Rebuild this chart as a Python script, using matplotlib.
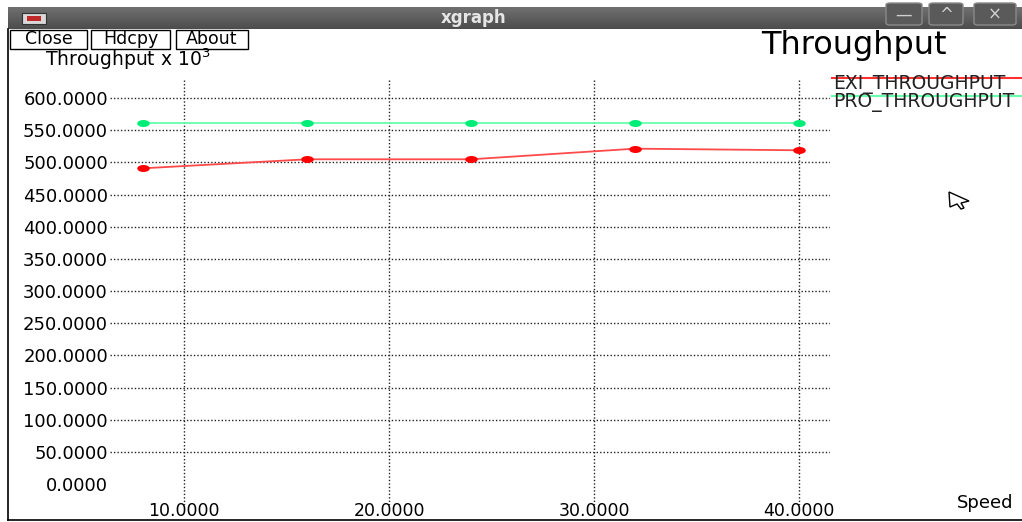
import matplotlib
matplotlib.use('Agg')
import matplotlib.pyplot as plt
from matplotlib.patches import Rectangle, FancyBboxPatch, Polygon
from matplotlib.lines import Line2D
from matplotlib.path import Path
import numpy as np

speed = [8, 16, 24, 32, 40]
exi_throughput = [490.8, 504.8, 504.8, 521.3, 518.8]
pro_throughput = [560.6, 560.6, 560.6, 560.6, 560.6]
x_ticks = [10, 20, 30, 40]
y_ticks = list(range(0, 601, 50))
series_names = ['EXI_THROUGHPUT', 'PRO_THROUGHPUT']

W, H = 1022, 522
plt.rcParams['font.family'] = ['DejaVu Sans']
fig = plt.figure(figsize=(W / 100, H / 100), dpi=100)


def fx(x):
    return x / W


def fy(y):
    return 1 - y / H


def box(x0, y0, x1, y1, **kw):
    fig.add_artist(Rectangle((fx(x0), fy(y1)), (x1 - x0) / W, (y1 - y0) / H,
                             transform=fig.transFigure, **kw))


# barra de titulo da janela
bar = fig.add_axes([fx(8), fy(29), (W - 8) / W, 22 / H])
grad = np.linspace(0.44, 0.30, 40).reshape(-1, 1)
bar.imshow(grad, cmap='gray', vmin=0, vmax=1, aspect='auto', extent=[0, 1, 0, 1])
bar.axis('off')
fig.text(fx(474), fy(18), 'xgraph', color='#e6e6e6', fontsize=12, fontweight='bold',
         ha='center', va='center')
box(22, 13, 46, 24, facecolor='#d8d8d8', edgecolor='#333333', lw=0.8)
box(27, 16, 41, 21, facecolor='#c0282a', edgecolor='none')
for (x0, x1), sym in zip([(886, 922), (929, 963), (974, 1016)], ['—', '^', '×']):
    fig.add_artist(FancyBboxPatch((fx(x0), fy(25)), (x1 - x0) / W, 22 / H,
                                  boxstyle='round,pad=0,rounding_size=0.004',
                                  transform=fig.transFigure, facecolor='#5a5a5a',
                                  edgecolor='#8a8a8a', lw=1))
    fig.text(fx((x0 + x1) / 2), fy(15), sym, color='#d0d0d0', fontsize=12,
             ha='center', va='center')

# borda da janela
fig.add_artist(Line2D([fx(8), fx(8)], [fy(29), fy(520)], color='black', lw=1.2,
                      transform=fig.transFigure))
fig.add_artist(Line2D([fx(8), fx(W)], [fy(520), fy(520)], color='black', lw=1.2,
                      transform=fig.transFigure))

# botoes
for (x0, x1), label in zip([(10, 87), (91, 170), (176, 248)], ['Close', 'Hdcpy', 'About']):
    box(x0, 30, x1, 49, facecolor='white', edgecolor='black', lw=1)
    fig.text(fx((x0 + x1) / 2), fy(39.5), label, fontsize=12.5, ha='center', va='center')

fig.text(fx(45), fy(66), 'Throughput x $\\mathregular{10^3}$', fontsize=13.5, va='baseline')
fig.text(fx(761), fy(54), 'Throughput', fontsize=23, va='baseline')
fig.text(fx(957), fy(508), 'Speed', fontsize=13, va='baseline')

# area do grafico
ax = fig.add_axes([fx(110), fy(505), (830 - 110) / W, (505 - 78) / H])
ax.set_xlim(6.39, 41.51)
ax.set_ylim(-32.3, 631.1)
for s in ax.spines.values():
    s.set_visible(False)
for v in y_ticks[1:]:
    ax.axhline(v, color='#222222', lw=1, ls=(0, (1, 1.5)), zorder=1)
for v in x_ticks:
    ax.axvline(v, color='#222222', lw=1, ls=(0, (1, 1.5)), zorder=1)

ax.set_xticks(x_ticks)
ax.set_xticklabels([f'{v:.4f}' for v in x_ticks])
ax.set_yticks(y_ticks)
ax.set_yticklabels([f'{v:.4f}' for v in y_ticks])
ax.tick_params(axis='y', length=0, labelsize=13, pad=1.5)
# rotulos do eixo x colados na borda de baixo: ancorados pela linha de base
ax.tick_params(axis='x', length=0, labelsize=12.5, pad=8)
for lbl in ax.get_xticklabels():
    lbl.set_verticalalignment('baseline')

# marcador eliptico (a captura esta esticada na horizontal)
ellipse = Path.unit_circle().transformed(matplotlib.transforms.Affine2D().scale(1.0, 0.5))

ax.plot(speed, exi_throughput, color='#ff4a4a', lw=1.3, marker=ellipse,
        markersize=8, markerfacecolor='#ff0000', markeredgecolor='#ff0000', zorder=3)
ax.plot(speed, pro_throughput, color='#66ffaa', lw=1.3, marker=ellipse,
        markersize=8, markerfacecolor='#00ee77', markeredgecolor='#00ee77', zorder=3)

# legenda estilo xgraph
for y_line, y_text, color, name in [(78, 85, '#ff3030', series_names[0]),
                                    (95.5, 102, '#66ffaa', series_names[1])]:
    fig.add_artist(Line2D([fx(832), fx(W)], [fy(y_line), fy(y_line)], color=color, lw=1.5,
                          transform=fig.transFigure))
    fig.text(fx(833), fy(y_text), name, fontsize=13.5, va='center', color='#222222')

# cursor do mouse
cursor = [(949, 192), (969, 201), (961, 203), (964, 208), (961, 209), (957, 204), (950, 207)]
fig.add_artist(Polygon([(fx(x), fy(y)) for x, y in cursor], closed=True,
                       transform=fig.transFigure, facecolor='white', edgecolor='black', lw=1))

fig.savefig('out.png', dpi=100, facecolor='white')
plt.close()
